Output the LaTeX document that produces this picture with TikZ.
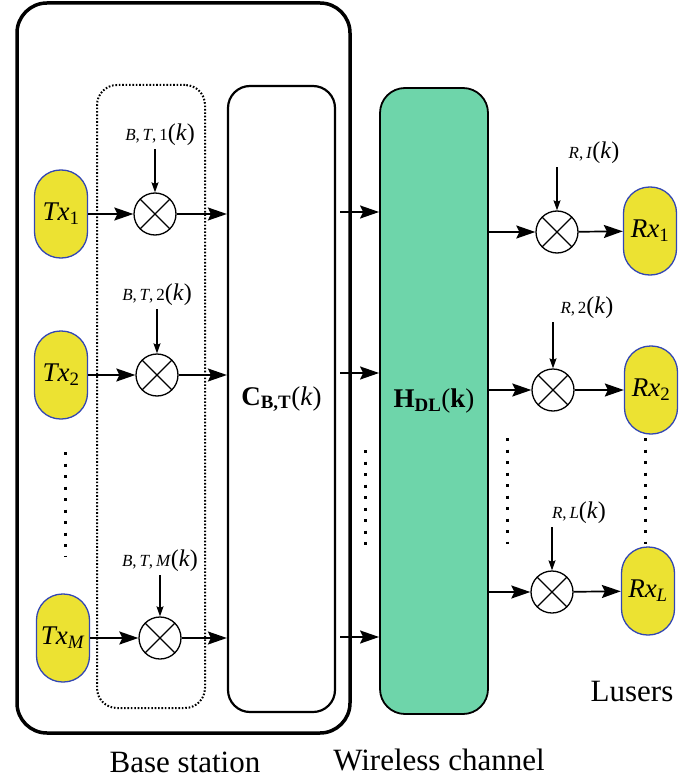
\documentclass[tikz,border=0pt]{standalone}
\usepackage{fontspec}
\setmainfont{Liberation Serif}
\usetikzlibrary{arrows.meta}
\definecolor{txyellow}{RGB}{236,226,50}
\definecolor{txblue}{RGB}{50,70,180}
\definecolor{hgreen}{RGB}{110,213,170}
\newcommand{\wlabel}[1]{{\fontsize{17}{17}\selectfont #1}(\textit{k})}
\newcommand{\term}[2]{\textit{#1}\textsubscript{#2}}
\begin{document}
\begin{tikzpicture}[x=1pt,y=-1pt,
  arr/.style={-{Stealth[length=19pt,width=13pt,inset=3pt]}, line width=1.7pt},
  smallarr/.style={-{Stealth[length=10pt,width=7pt,inset=1.5pt]}, line width=1.1pt},
  termbox/.style={draw=txblue, fill=txyellow, line width=1.3pt, rounded corners=26pt,
    minimum width=53pt, minimum height=88pt, inner sep=0pt, font=\fontsize{27}{30}\selectfont},
  mult/.style={draw, circle, line width=1.3pt, minimum size=42pt, inner sep=0pt,
    path picture={\draw[line width=1.1pt] (path picture bounding box.north west) -- (path picture bounding box.south east)
      (path picture bounding box.north east) -- (path picture bounding box.south west);}},
  wlab/.style={inner sep=0pt, font=\fontsize{24}{26}\selectfont},
  bigtxt/.style={font=\fontsize{31}{34}\selectfont, inner sep=0pt},
  vdots/.style={line width=3pt, dash pattern=on 3pt off 8.5pt}
]
\useasboundingbox (0,0) rectangle (685,778);

% outer base station box
\node[draw, line width=3.5pt, rounded corners=30pt, minimum width=333pt, minimum height=730pt] (bs) at (183.5,368) {};
% dotted box
\node[draw, line width=2pt, dash pattern=on 1.6pt off 1.8pt, rounded corners=20pt, minimum width=108pt, minimum height=623pt] (dbox) at (151,396.5) {};
% C box
\node[draw, line width=2.2pt, rounded corners=22pt, minimum width=107pt, minimum height=626pt,
  font=\fontsize{27}{30}\selectfont] (cbox) at (281.5,399) {\textbf{C}\textsubscript{\textbf{B,T}}(\textit{k})};
% H box
\node[draw, fill=hgreen, line width=1.8pt, rounded corners=25pt, minimum width=108pt, minimum height=626pt,
  font=\fontsize{27}{30}\selectfont] (hbox) at (434,401) {\textbf{H}\textsubscript{\textbf{DL}}(\textbf{k})};

% transmitters
\node[termbox] (tx1) at (61,214) {\term{Tx}{1}};
\node[termbox] (tx2) at (61,375) {\term{Tx}{2}};
\node[termbox] (txM) at (63,638) {\term{Tx}{\textit{M}}};

% multipliers (base station)
\node[mult] (m1) at (155,214) {};
\node[mult] (m2) at (157,375) {};
\node[mult] (mM) at (160,638) {};

% weight labels
\node[wlab] (w1) at (160,135) {\wlabel{\textit{B},\,\textit{T},\,1}};
\node[wlab] (w2) at (157,295) {\wlabel{\textit{B},\,\textit{T},\,2}};
\node[wlab] (wM) at (160,561) {\wlabel{\textit{B},\,\textit{T},\,\textit{M}}};
\draw[smallarr] (m1 |- w1.south) ++(0,3) -- (m1.north);
\draw[smallarr] (m2 |- w2.south) ++(0,3) -- (m2.north);
\draw[smallarr] (mM |- wM.south) ++(0,3) -- (mM.north);

\draw[arr] (tx1) -- (m1);
\draw[arr] (tx2) -- (m2);
\draw[arr] (txM) -- (mM);
\draw[arr] (m1) -- (m1 -| cbox.west);
\draw[arr] (m2) -- (m2 -| cbox.west);
\draw[arr] (mM) -- (mM -| cbox.west);

% C -> H
\coordinate (s1) at (340,212);
\coordinate (s2) at (340,373);
\coordinate (sM) at (340,637);
\draw[arr] (s1) -- (s1 -| hbox.west);
\draw[arr] (s2) -- (s2 -| hbox.west);
\draw[arr] (sM) -- (sM -| hbox.west);

% receivers side
\node[mult] (r1) at (557,232) {};
\node[mult] (r2) at (553,390) {};
\node[mult] (rL) at (552,592) {};
\node[termbox] (rx1) at (650,231) {\term{Rx}{1}};
\node[termbox] (rx2) at (651,390) {\term{Rx}{2}};
\node[termbox] (rxL) at (648,591) {\term{Rx}{\textit{L}}};

\node[wlab] (v1) at (594,153) {\wlabel{\textit{R},\,\textit{I}}};
\node[wlab] (v2) at (587,308) {\wlabel{\textit{R},\,2}};
\node[wlab] (vL) at (579,513) {\wlabel{\textit{R},\,\textit{L}}};
\draw[smallarr] (r1 |- v1.south) ++(0,3) -- (r1.north);
\draw[smallarr] (r2 |- v2.south) ++(0,3) -- (r2.north);
\draw[smallarr] (rL |- vL.south) ++(0,3) -- (rL.north);

\draw[arr] (r1 -| hbox.east) -- (r1);
\draw[arr] (r2 -| hbox.east) -- (r2);
\draw[arr] (rL -| hbox.east) -- (rL);
\draw[arr] (r1) -- (rx1);
\draw[arr] (r2) -- (rx2);
\draw[arr] (rL) -- (rxL);

% vertical dots
\draw[vdots] (65,452) -- (65,556);
\draw[vdots] (365,450) -- (365,552);
\draw[vdots] (507,438) -- (507,544);
\draw[vdots] (645,438) -- (645,544);

% captions
\node[bigtxt] (cap1) at (185,762) {Base station};
\node[bigtxt] (cap2) at (439,760) {Wireless channel};
\node[bigtxt] (cap3) at (632,691) {Lusers};
\end{tikzpicture}
\end{document}
